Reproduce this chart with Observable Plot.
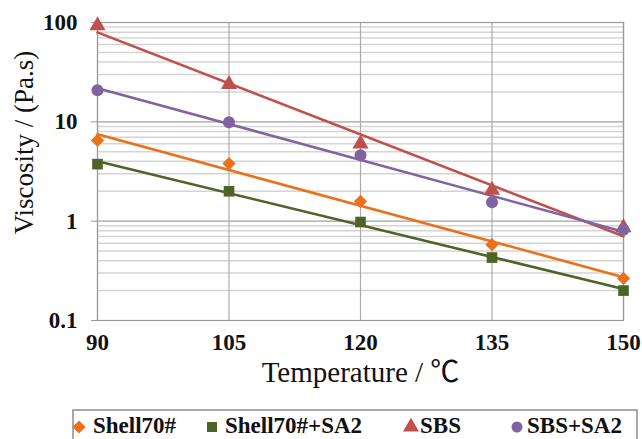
<!DOCTYPE html>
<html>
<head>
<meta charset="utf-8">
<script src="https://cdn.jsdelivr.net/npm/d3@7"></script>
<script src="https://cdn.jsdelivr.net/npm/@observablehq/plot@0.6"></script>
<style>
  html, body { margin: 0; padding: 0; background: #fff; }
  #wrap { position: relative; width: 642px; height: 439px; overflow: hidden; }
  #wrap > svg { display: block; }
  #legend { position: absolute; left: 0; top: 405px; }
</style>
</head>
<body>
<div id="wrap"></div>
<script>
const temps = [90, 105, 120, 135, 150];
const seriesNames = ["Shell70#", "Shell70#+SA2", "SBS", "SBS+SA2"];
const shell70 = [6.5, 3.8, 1.58, 0.58, 0.265];
const shell70SA2 = [3.75, 2.0, 0.98, 0.43, 0.2];
const sbs = [93, 23.8, 6.0, 2.05, 0.86];
const sbsSA2 = [20.8, 9.9, 4.6, 1.55, 0.82];
const yTicks = [0.1, 1, 10, 100];
const yTickLabels = ["0.1", "1", "10", "100"];

const seriesValues = [shell70, shell70SA2, sbs, sbsSA2];
const colors = ["#ec7018", "#4f6228", "#c0504d", "#8064a2"];
const symbols = ["diamond2", "square", "triangle", "circle"];
const serif = "'Liberation Serif', 'Times New Roman', 'Noto Sans CJK SC', serif";

const points = [];
seriesNames.forEach((s, i) => temps.forEach((t, j) => points.push({series: s, t, v: seriesValues[i][j]})));

// exponential trendline (least squares in log space), as Excel does
const trend = [];
seriesNames.forEach((s, i) => {
  const ly = seriesValues[i].map(Math.log);
  const mx = d3.mean(temps), my = d3.mean(ly);
  const b = d3.sum(temps, (t, j) => (t - mx) * (ly[j] - my)) / d3.sum(temps, t => (t - mx) ** 2);
  const a = my - b * mx;
  [temps[0], temps[temps.length - 1]].forEach(t => trend.push({series: s, t, v: Math.exp(a + b * t)}));
});

const minor = [];
[0.1, 1, 10].forEach(d => { for (let k = 2; k <= 9; k++) minor.push(k * d); });

const chart = Plot.plot({
  width: 642, height: 405,
  marginLeft: 97, marginRight: 19, marginTop: 22, marginBottom: 85,
  x: {domain: [90, 150]},
  y: {type: "log", domain: [0.1, 100]},
  color: {domain: seriesNames, range: colors},
  symbol: {domain: seriesNames, range: symbols},
  style: {fontFamily: serif, background: "#fff", color: "#111"},
  marks: [
    Plot.ruleY(minor, {stroke: "#d4d4d4", strokeWidth: 1.5}),
    Plot.ruleY(yTicks, {stroke: "#a0a0a0", strokeWidth: 1.2}),
    Plot.ruleX(temps, {stroke: "#ababab", strokeWidth: 1.2}),
    Plot.frame({stroke: "#999", strokeWidth: 1.2}),
    Plot.axisY({ticks: yTicks, tickFormat: d => yTickLabels[yTicks.indexOf(d)], tickSize: 6, tickPadding: 14,
                fontSize: 23, fontWeight: "bold", fontFamily: serif, stroke: "#999", label: null}),
    Plot.axisX({ticks: temps, tickSize: 0, tickPadding: 13, fontSize: 23, fontWeight: "bold", fontFamily: serif, label: null}),
    Plot.text(["Temperature / ℃"], {frameAnchor: "bottom", dy: 61, fontSize: 29, fontFamily: serif, fill: "#111"}),
    Plot.text(["Viscosity / (Pa.s)"], {frameAnchor: "left", textAnchor: "middle", dx: -73, dy: -29, rotate: -90,
                fontSize: 27, fontFamily: serif, fill: "#111"}),
    Plot.line(trend, {x: "t", y: "v", z: "series", stroke: "series", strokeWidth: 2.6}),
    Plot.dot(points, {x: "t", y: "v", symbol: "series", fill: "series", r: 6, stroke: "none"})
  ]
});
const wrap = document.getElementById("wrap");
wrap.appendChild(chart);

// legend below the plot
const legendMarkerX = [79, 212, 411, 517];
const legendTextX = [93, 225, 420, 527];
const lg = d3.create("svg").attr("id", "legend").attr("width", 642).attr("height", 34);
lg.append("rect").attr("x", 73).attr("y", 5).attr("width", 564).attr("height", 60)
  .attr("fill", "none").attr("stroke", "#8c8c8c").attr("stroke-width", 1.5);
const symMap = {diamond2: d3.symbolDiamond2, square: d3.symbolSquare, triangle: d3.symbolTriangle, circle: d3.symbolCircle};
const symSize = {diamond2: 110, square: 100, triangle: 110, circle: 95};
seriesNames.forEach((s, i) => {
  lg.append("path").attr("d", d3.symbol(symMap[symbols[i]], symSize[symbols[i]])())
    .attr("transform", `translate(${legendMarkerX[i]},22)`).attr("fill", colors[i]);
  lg.append("text").attr("x", legendTextX[i]).attr("y", 28).text(s)
    .attr("font-family", serif).attr("font-weight", "bold").attr("font-size", 23).attr("fill", "#111");
});
wrap.appendChild(lg.node());
</script>
</body>
</html>
